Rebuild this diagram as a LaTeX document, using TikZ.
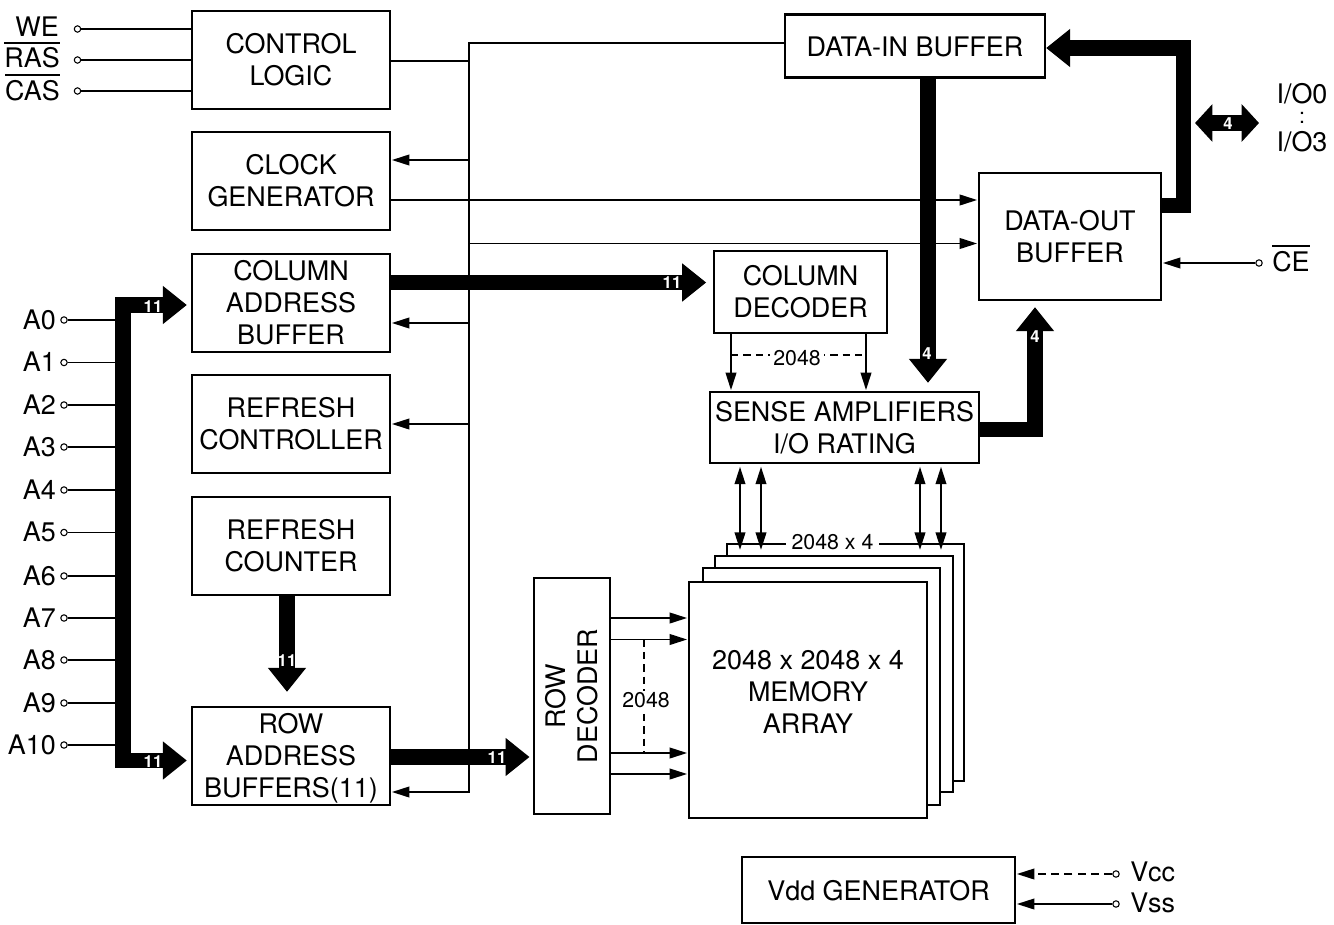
\documentclass[tikz,border=0pt]{standalone}
\usepackage{fontspec}
\setmainfont{TeX Gyre Heros}
\usetikzlibrary{arrows.meta}
\newcommand\ovl[1]{\setbox0=\hbox{#1}\leavevmode\rlap{\smash{\rule[18.3pt]{\wd0}{1.1pt}}}\box0 }
\tikzset{
  bsize/.style 2 args={minimum width=#1*.75pt, minimum height=#2*.75pt},
  blk/.style={draw=black, line width=1.7pt, fill=white, align=center, inner sep=0pt, font=\fontsize{20.2}{24}\selectfont},
  lower text/.style={execute at begin node={\rule{0pt}{16.7pt}}},
  txt/.style={inner sep=0pt, align=center, font=\fontsize{20.2}{24}\selectfont},
  small/.style={inner sep=0pt, font=\fontsize{16}{19}\selectfont},
  smallw/.style={small, fill=white, inner ysep=1pt, inner xsep=2.5pt},
  wlab/.style={inner sep=0pt, text=white, font=\fontsize{12.5}{14}\bfseries\selectfont},
  pinc/.style={circle, draw=black, fill=white, line width=.8pt, minimum size=4.8pt, inner sep=0pt},
  wire/.style={line width=1.2pt, line join=miter},
  sig/.style={wire, -{Triangle[length=13pt,width=8pt]}, shorten >=.6pt},
  bisig/.style={wire, {Triangle[length=13pt,width=8pt]}-{Triangle[length=13pt,width=8pt]}, shorten >=-5.2pt, shorten <=2pt},
  dsh/.style={line width=.9pt, dash pattern=on 5.5pt off 3.8pt},
  thick bus/.style={line width=11.3pt, line join=miter, -{Triangle[length=18pt,width=27.5pt]}, shorten >=2.5pt},
  double bus/.style={line width=11.3pt, line join=miter, {Triangle[length=13pt,width=27.5pt]}-{Triangle[length=13pt,width=27.5pt]}},
  two head bus/.style={line width=11.3pt, line join=miter, {Triangle[length=18pt,width=27.5pt]}-{Triangle[length=18pt,width=27.5pt]}, shorten >=3pt, shorten <=3pt},
}
\begin{document}
\begin{tikzpicture}[x=.75pt,y=-.75pt]
\useasboundingbox (0,0) rectangle (1334,924);
% blocks
\node[blk,lower text,bsize={198}{98}] (ctl) at (291,60) {CONTROL\\LOGIC};
\node[blk,lower text,bsize={198}{98}] (clk) at (291,181) {CLOCK\\GENERATOR};
\node[blk,bsize={198}{98}] (cab) at (291,303) {COLUMN\\ADDRESS\\BUFFER};
\node[blk,lower text,bsize={198}{98}] (rct) at (291,424) {REFRESH\\CONTROLLER};
\node[blk,bsize={198}{98}] (rcn) at (291,546) {REFRESH\\COUNTER};
\node[blk,bsize={198}{98}] (rab) at (291,756) {\rule{0pt}{18.8pt}ROW\\ADDRESS\\BUFFERS(11)};
\node[blk,lower text,bsize={260}{63}] (din) at (915,46) {DATA-IN BUFFER};
\node[blk,lower text,bsize={182}{127}] (dout) at (1070,236.5) {DATA-OUT\\BUFFER};
\node[blk,bsize={173}{82}] (cdec) at (800.5,292) {COLUMN\\DECODER};
\node[blk,lower text,bsize={269}{71}] (sense) at (844.5,427.5) {SENSE AMPLIFIERS\\I/O RATING};
\node[blk,bsize={76}{236}] (rdec) at (572,696) {};
\node[txt,rotate=90] (rdect) at (572,696) {ROW\\DECODER};
\node[blk,bsize={237}{237}] (m4) at (845.5,662.5) {};
\node[blk,bsize={238}{236}] (m3) at (834,674) {};
\node[blk,bsize={237}{237}] (m2) at (821.5,686.5) {};
\node[blk,bsize={238}{236}] (m1) at (808,700) {};
\node[txt] (mt) at (808,692) {2048 x 2048 x 4\\MEMORY\\ARRAY};
\node[blk,lower text,bsize={273}{66}] (vdd) at (878.5,890) {Vdd GENERATOR};
% input labels and pins
\node[txt,anchor=base east] (we) at (59,37) {WE};
\node[txt,anchor=base east] (ras) at (60,68) {\ovl{RAS}};
\node[txt,anchor=base east] (cas) at (60,100) {\ovl{CAS}};
\node[pinc] (pwe) at (77.5,29) {};
\node[pinc] (pras) at (77.5,60) {};
\node[pinc] (pcas) at (77.5,91) {};
\draw[wire] (pwe) -- (ctl.west |- pwe);
\draw[wire] (pras) -- (ctl.west |- pras);
\draw[wire] (pcas) -- (ctl.west |- pcas);
% address inputs
\coordinate (trunk) at (115,0);
\foreach \n/\y in {0/320,1/362.5,2/405,3/447,4/490,5/532.5,6/576,7/618,8/660,9/703,10/745}{
  \node[txt,anchor=base east] (lab\n) at (56,\y+9) {A\n};
  \node[pinc] (pa\n) at (64,\y) {};
  \draw[wire] (pa\n) -- (pa\n -| trunk);
}
% address bus
\draw[two head bus] (cab.west |- 0,305) -- (123,305) -- (123,760.5) -- (rab.west |- 0,760.5);
\node[wlab] (l11a) at (153,307) {11};
\node[wlab] (l11b) at (153,762) {11};
% control bus
\coordinate (bustop) at (469,43);
\coordinate (busbot) at (469,792);
\draw[sig] (din.west |- bustop) -- (bustop) -- (busbot) -- (rab.east |- busbot);
\draw[wire] (ctl.east |- 0,61) -- (bustop |- 0,61);
\draw[sig] (bustop |- 0,160) -- (clk.east |- 0,160);
\draw[sig] (bustop |- 0,323) -- (cab.east |- 0,323);
\draw[sig] (bustop |- 0,424) -- (rct.east |- 0,424);
\draw[sig] (clk.east |- 0,200) -- (dout.west |- 0,200);
\draw[sig] (bustop |- 0,243.5) -- (dout.west |- 0,243.5);
% thick buses
\draw[thick bus,shorten >=5pt] (cab.east |- 0,282.5) -- (cdec.west |- 0,282.5);
\node[wlab] (l11c) at (672,283) {11};
\draw[thick bus,shorten >=10.5pt] (rcn.south -| 287,0) -- (rab.north -| 287,0);
\node[wlab] (l11d) at (287,661) {11};
\draw[thick bus] (rab.east |- 0,757) -- (rdec.west |- 0,757);
\node[wlab] (l11e) at (497,758) {11};
\draw[thick bus,shorten >=6pt] (din.south -| 928,0) -- (sense.north -| 928,0);
\node[wlab] (l4a) at (927,354) {4};
\draw[thick bus,shorten >=4.5pt] (sense.east |- 0,429.5) -- (1035,429.5) -- (dout.south -| 1035,0);
\node[wlab] (l4b) at (1035,337) {4};
\draw[thick bus,shorten >=0pt] (dout.east |- 0,205.5) -- (1183.5,205.5) -- (1183.5,48) -- (din.east |- 0,48);
\coordinate (iol) at (1195,123);
\coordinate (ior) at (1259,123);
\draw[double bus] (iol) -- (ior);
\node[wlab] (l4c) at (1228,124) {4};
\node[txt] (io0) at (1302,93.5) {I/O0};
\node[small] (iod) at (1302,117.5) {:};
\node[txt] (io3) at (1302,142) {I/O3};
% CE
\node[pinc] (pce) at (1259,263) {};
\node[txt,anchor=base west] (ce) at (1272,271) {\ovl{CE}};
\draw[sig] (pce) -- (dout.east |- pce);
% column decoder to sense amps
\draw[sig] (cdec.south -| 731,0) -- (sense.north -| 731,0);
\draw[sig] (cdec.south -| 866,0) -- (sense.north -| 866,0);
\draw[dsh] (731,355) -- (866,355);
\node[smallw] (n2048a) at (797,358) {2048};
% sense amps to memory
\foreach \x in {740,761,920,941}{
  \draw[bisig] (sense.south -| \x,0) -- (m4.north -| \x,0);
}
\node[smallw,inner xsep=4.5pt] (n2048b) at (832.5,542) {2048 x 4};
% row decoder to memory
\foreach \y in {618,639.5,753,774}{
  \draw[sig] (rdec.east |- 0,\y) -- (m1.west |- 0,\y);
}
\draw[dsh] (644,639.5) -- (644,753);
\node[smallw] (n2048c) at (646,700) {2048};
% Vdd
\node[pinc] (pvcc) at (1116,874) {};
\node[pinc] (pvss) at (1116,904) {};
\node[txt,anchor=base west] (vcc) at (1130,881) {Vcc};
\node[txt,anchor=base west] (vss) at (1130,912.5) {Vss};
\draw[wire,dash pattern=on 6pt off 4pt,-{Triangle[length=13pt,width=8pt]},shorten >=.6pt] (pvcc) -- (vdd.east |- pvcc);
\draw[sig] (pvss) -- (vdd.east |- pvss);
\end{tikzpicture}
\end{document}
